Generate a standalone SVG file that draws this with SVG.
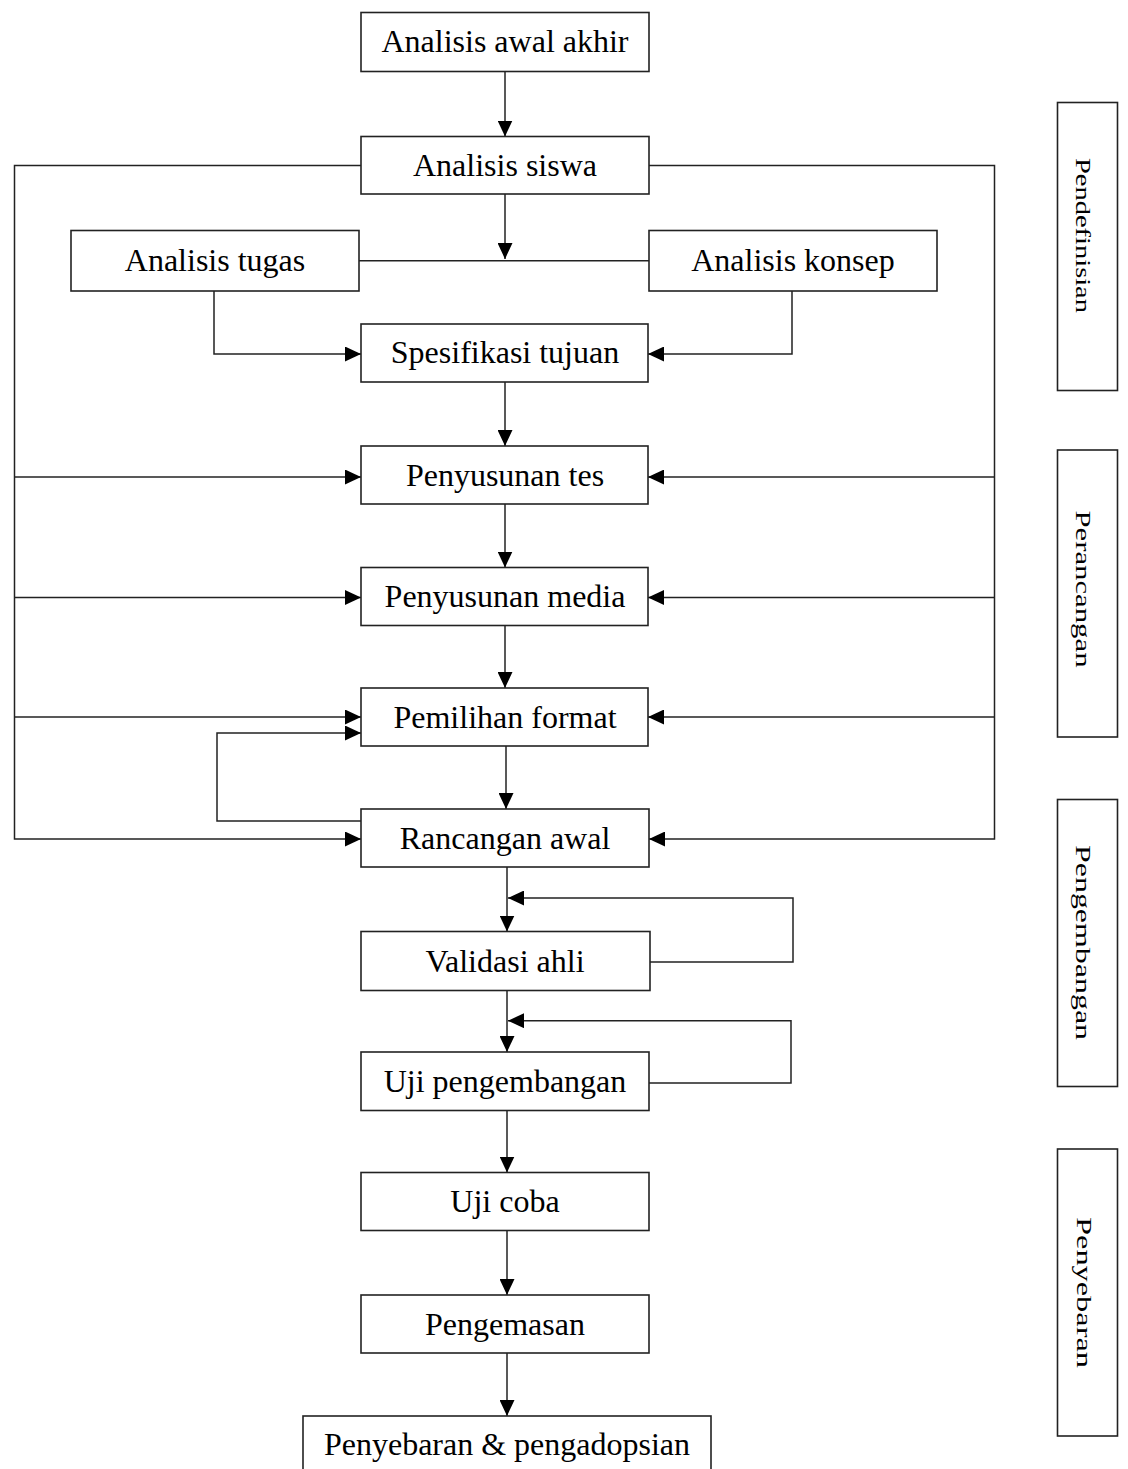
<svg xmlns="http://www.w3.org/2000/svg" width="1128" height="1469" viewBox="0 0 1128 1469">
<style>
.box{fill:#fff;stroke:#222;stroke-width:1.6}
.t{font-family:"Liberation Serif","Times New Roman",serif;font-size:32px;fill:#000;text-anchor:middle}
.v{font-family:"Liberation Serif","Times New Roman",serif;font-size:30px;fill:#000;text-anchor:middle}
.c{fill:none;stroke:#222;stroke-width:1.5}
.a{marker-end:url(#arr)}
</style>
<defs>
<marker id="arr" markerUnits="userSpaceOnUse" markerWidth="16" markerHeight="15" refX="16" refY="7.5" orient="auto">
<path d="M0,0 L16,7.5 L0,15 Z" fill="#000"/>
</marker>
</defs>
<rect width="1128" height="1469" fill="#fff"/>

<g id="connectors">
<path class="c a" d="M505,72 V136.5"/>
<path class="c a" d="M505,194 V259"/>
<path class="c" d="M359,260.7 H649"/>
<path class="c a" d="M214,291 V354 H361"/>
<path class="c a" d="M792,291 V354 H648"/>
<path class="c a" d="M505,382 V446"/>
<path class="c a" d="M505,504 V567.5"/>
<path class="c a" d="M505,625.5 V688"/>
<path class="c a" d="M506,746 V809"/>
<path class="c a" d="M361,165.5 H14.5 V839 H361"/>
<path class="c a" d="M14.5,477 H361"/>
<path class="c a" d="M14.5,597.5 H361"/>
<path class="c a" d="M14.5,717 H361"/>
<path class="c a" d="M649,165.5 H994.5 V839 H649"/>
<path class="c a" d="M994.5,477 H648"/>
<path class="c a" d="M994.5,597.5 H648"/>
<path class="c a" d="M994.5,717 H648"/>
<path class="c a" d="M361,821 H217 V733 H361"/>
<path class="c a" d="M507,867 V931.5"/>
<path class="c a" d="M650,962 H793 V898 H508"/>
<path class="c a" d="M507,990.5 V1052"/>
<path class="c a" d="M649,1083 H791 V1020.7 H508"/>
<path class="c a" d="M507,1110.5 V1172.5"/>
<path class="c a" d="M507,1230.5 V1295"/>
<path class="c a" d="M507,1353 V1416"/>
</g>

<g id="n-analisis-awal-akhir"><rect class="box" x="361" y="12.5" width="288" height="59"/><text class="t" x="505" y="52">Analisis awal akhir</text></g>
<g id="n-analisis-siswa"><rect class="box" x="361" y="136.5" width="288" height="57.5"/><text class="t" x="505" y="176">Analisis siswa</text></g>
<g id="n-analisis-tugas"><rect class="box" x="71" y="230.5" width="288" height="60.5"/><text class="t" x="215" y="271">Analisis tugas</text></g>
<g id="n-analisis-konsep"><rect class="box" x="649" y="230.5" width="288" height="60.5"/><text class="t" x="793" y="271">Analisis konsep</text></g>
<g id="n-spesifikasi-tujuan"><rect class="box" x="361" y="324" width="287" height="58"/><text class="t" x="505" y="363">Spesifikasi tujuan</text></g>
<g id="n-penyusunan-tes"><rect class="box" x="361" y="446" width="287" height="58"/><text class="t" x="505" y="486">Penyusunan tes</text></g>
<g id="n-penyusunan-media"><rect class="box" x="361" y="567.5" width="287" height="58"/><text class="t" x="505" y="607">Penyusunan media</text></g>
<g id="n-pemilihan-format"><rect class="box" x="361" y="688" width="287" height="58"/><text class="t" x="505" y="728">Pemilihan format</text></g>
<g id="n-rancangan-awal"><rect class="box" x="361" y="809" width="288" height="58"/><text class="t" x="505" y="849">Rancangan awal</text></g>
<g id="n-validasi-ahli"><rect class="box" x="361" y="931.5" width="289" height="59"/><text class="t" x="505" y="972">Validasi ahli</text></g>
<g id="n-uji-pengembangan"><rect class="box" x="361" y="1052" width="288" height="58.5"/><text class="t" x="505" y="1092">Uji pengembangan</text></g>
<g id="n-uji-coba"><rect class="box" x="361" y="1172.5" width="288" height="58"/><text class="t" x="505" y="1212">Uji coba</text></g>
<g id="n-pengemasan"><rect class="box" x="361" y="1295" width="288" height="58"/><text class="t" x="505" y="1335">Pengemasan</text></g>
<g id="n-penyebaran-pengadopsian"><rect class="box" x="303" y="1416" width="408" height="60"/><text class="t" x="507" y="1455">Penyebaran &amp; pengadopsian</text></g>

<g id="phase-pendefinisian"><rect class="box" x="1057.5" y="102.5" width="60" height="288"/><text class="v" transform="translate(1076,235.5) rotate(90) scale(1,0.68)" textLength="155" lengthAdjust="spacingAndGlyphs">Pendefinisian</text></g>
<g id="phase-perancangan"><rect class="box" x="1057.5" y="450" width="60" height="287"/><text class="v" transform="translate(1076,589) rotate(90) scale(1,0.68)" textLength="157" lengthAdjust="spacingAndGlyphs">Perancangan</text></g>
<g id="phase-pengembangan"><rect class="box" x="1057.5" y="799.5" width="60" height="287"/><text class="v" transform="translate(1076,942.5) rotate(90) scale(1,0.68)" textLength="195" lengthAdjust="spacingAndGlyphs">Pengembangan</text></g>
<g id="phase-penyebaran"><rect class="box" x="1057.5" y="1149" width="60" height="287"/><text class="v" transform="translate(1077,1292.5) rotate(90) scale(1,0.68)" textLength="151" lengthAdjust="spacingAndGlyphs">Penyebaran</text></g>
</svg>
